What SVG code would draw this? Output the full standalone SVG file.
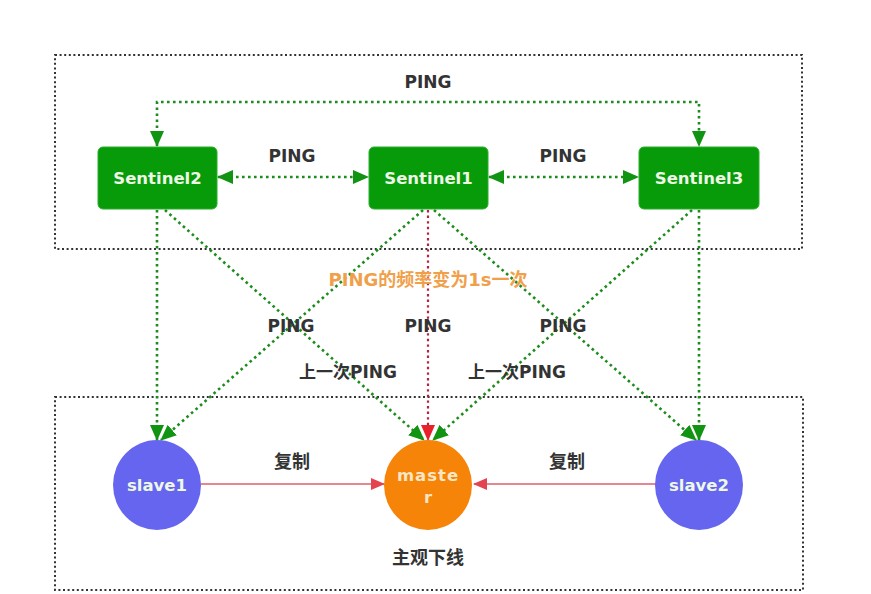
<svg xmlns="http://www.w3.org/2000/svg" width="871" height="594" viewBox="0 0 871 594">
<defs>
<marker id="ag" markerUnits="userSpaceOnUse" markerWidth="16" markerHeight="14" refX="15" refY="7" orient="auto-start-reverse" viewBox="0 0 16 14">
<path d="M0,0 L16,7 L0,14 Z" fill="#119411"/>
</marker>
<marker id="ar" markerUnits="userSpaceOnUse" markerWidth="16" markerHeight="14" refX="15" refY="7" orient="auto" viewBox="0 0 16 14">
<path d="M0,0 L16,7 L0,14 Z" fill="#e8222c"/>
</marker>
<marker id="arl" markerUnits="userSpaceOnUse" markerWidth="14" markerHeight="12" refX="13" refY="6" orient="auto" viewBox="0 0 14 12">
<path d="M0,0 L14,6 L0,12 Z" fill="#e44450"/>
</marker>
</defs>
<style>
.frame{fill:none;stroke:#333;stroke-width:2;stroke-dasharray:2 2.6}
.gl{fill:none;stroke:#1c8c1c;stroke-width:2.6;stroke-dasharray:2.6 3.4}
.rl{fill:none;stroke:#b8203e;stroke-width:2.2;stroke-dasharray:2.4 3.2}
.cl{fill:none;stroke:#e6868e;stroke-width:2}
.sent{fill:#079a09;stroke:#2bb02b;stroke-width:1}
.slave{fill:#6565ef}
.master{fill:#f58408}
.nt{font-family:"DejaVu Sans","Noto Sans CJK SC",sans-serif;font-weight:bold;font-size:16.5px;fill:#eef8e6;text-anchor:middle}
.lb{font-family:"DejaVu Sans","Noto Sans CJK SC",sans-serif;font-weight:bold;font-size:17px;fill:#333;text-anchor:middle}
.cj{font-family:"Noto Sans CJK SC","DejaVu Sans",sans-serif;font-weight:bold;font-size:18px;fill:#333;text-anchor:middle}
.or{font-family:"DejaVu Sans","Noto Sans CJK SC",sans-serif;font-weight:bold;font-size:18px;fill:#f0a04a;text-anchor:middle}
</style>
<rect width="871" height="594" fill="#fff"/>
<rect class="frame" x="55" y="55" width="747" height="194"/>
<rect class="frame" x="55" y="397" width="748" height="193"/>
<g id="connectors">
<path class="gl" d="M157,146 V102 H699 V146" marker-start="url(#ag)" marker-end="url(#ag)"/>
<path class="gl" d="M218,177 H368" marker-start="url(#ag)" marker-end="url(#ag)"/>
<path class="gl" d="M489,177 H638" marker-start="url(#ag)" marker-end="url(#ag)"/>
<path class="gl" d="M157,210 V440" marker-end="url(#ag)"/>
<path class="gl" d="M699,210 V440" marker-end="url(#ag)"/>
<path class="gl" d="M165,210 L424,440" marker-end="url(#ag)"/>
<path class="gl" d="M423,210 L161,440" marker-end="url(#ag)"/>
<path class="gl" d="M434,210 L696,440" marker-end="url(#ag)"/>
<path class="gl" d="M692,210 L433,440" marker-end="url(#ag)"/>
<path class="rl" d="M428,210 V440" marker-end="url(#ar)"/>
<path class="cl" d="M201,484 H384" marker-end="url(#arl)"/>
<path class="cl" d="M656,484 H474" marker-end="url(#arl)"/>
</g>
<g id="sentinel2"><rect class="sent" x="98" y="147" width="119" height="62" rx="5"/><text class="nt" x="157.5" y="184">Sentinel2</text></g>
<g id="sentinel1"><rect class="sent" x="369" y="147" width="119" height="62" rx="5"/><text class="nt" x="428.5" y="184">Sentinel1</text></g>
<g id="sentinel3"><rect class="sent" x="639" y="147" width="120" height="62" rx="5"/><text class="nt" x="699" y="184">Sentinel3</text></g>
<g id="slave1"><ellipse class="slave" cx="157" cy="485" rx="44" ry="45"/><text class="nt" x="157" y="491">slave1</text></g>
<g id="master"><ellipse class="master" cx="428" cy="485" rx="44" ry="45"/><text class="nt" x="428" y="481" style="fill:#f8e6c4;letter-spacing:1px">maste</text><text class="nt" x="428" y="503" style="fill:#f8e6c4">r</text></g>
<g id="slave2"><ellipse class="slave" cx="699" cy="485" rx="44" ry="45"/><text class="nt" x="699" y="491">slave2</text></g>
<g id="labels">
<text class="lb" x="428" y="88">PING</text>
<text class="lb" x="292" y="162">PING</text>
<text class="lb" x="563" y="162">PING</text>
<text class="or" x="428" y="286">PING的频率变为1s一次</text>
<text class="lb" x="291" y="332">PING</text>
<text class="lb" x="428" y="332">PING</text>
<text class="lb" x="563" y="332">PING</text>
<text class="lb" x="348" y="378">上一次PING</text>
<text class="lb" x="517" y="378">上一次PING</text>
<text class="cj" x="292" y="468">复制</text>
<text class="cj" x="567" y="468">复制</text>
<text class="cj" x="428" y="564">主观下线</text>
</g>
</svg>
